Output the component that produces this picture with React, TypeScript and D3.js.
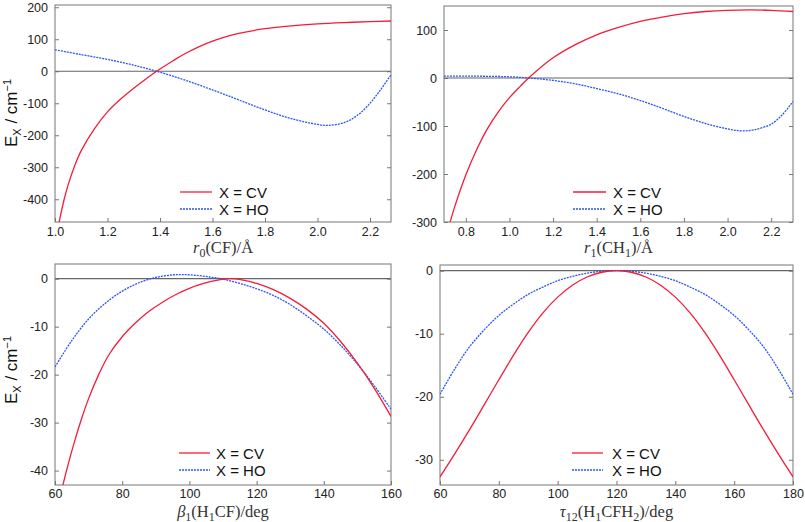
import React, { useRef, useEffect } from 'react';
import * as d3 from 'd3';

type Pt = [number, number];

// r0(CF) scan, cm^-1
const cfCV: Pt[] = [
  [1.01, -495], [1.02, -455], [1.035, -400], [1.05, -355], [1.075, -295], [1.1, -248], [1.15, -180],
  [1.2, -127], [1.25, -87], [1.3, -53], [1.35, -22], [1.387, 0], [1.45, 33], [1.5, 57], [1.6, 94],
  [1.7, 118], [1.8, 133], [1.9, 142], [2.0, 148], [2.1, 152], [2.2, 155], [2.28, 157],
];
const cfHO: Pt[] = [
  [1.0, 67], [1.1, 52], [1.2, 37], [1.3, 19], [1.387, 0], [1.5, -29], [1.648, -73], [1.8, -121],
  [1.9, -148], [2.0, -166], [2.04, -169], [2.1, -161], [2.15, -139], [2.2, -100], [2.24, -58], [2.28, -11],
];

// r1(CH1) scan
const chCV: Pt[] = [
  [0.71, -330], [0.72, -313], [0.75, -267], [0.8, -202], [0.85, -149], [0.9, -105], [0.95, -70],
  [1.0, -41], [1.05, -17], [1.088, 0], [1.2, 42], [1.3, 69], [1.4, 90], [1.5, 105.5], [1.6, 118],
  [1.7, 127], [1.8, 134], [1.9, 138.5], [2.0, 141], [2.1, 142], [2.2, 141], [2.3, 138.5],
];
const chHO: Pt[] = [
  [0.7, 4], [0.8, 4], [0.9, 3.5], [1.0, 2.5], [1.09, 0], [1.2, -5], [1.3, -12], [1.4, -22],
  [1.5, -33], [1.6, -47], [1.7, -63], [1.8, -80], [1.9, -95], [2.0, -106], [2.06, -110],
  [2.12, -108], [2.2, -96], [2.25, -77], [2.3, -49],
];

// beta1(H1CF) scan
const bendCV: Pt[] = [
  [61, -47], [62, -44], [64, -38.5], [66, -33.5], [68, -29], [70, -25], [73, -20], [76, -15.9],
  [80, -12.1], [84, -9.2], [88, -6.8], [92, -4.9], [96, -3.3], [100, -2.0], [104, -1.05],
  [108, -0.35], [112, 0], [116, -0.3], [120, -1.0], [125, -2.3], [130, -4.1], [135, -6.4],
  [140, -9.3], [145, -13.1], [150, -17.6], [155, -22.8], [160, -28.7],
];
const bendHO: Pt[] = [
  [60, -18.4], [65, -12.9], [70, -8.4], [75, -5.1], [80, -2.6], [85, -0.85], [90, 0.25],
  [95, 0.78], [98, 0.85], [102, 0.7], [106, 0.35], [110, -0.1], [115, -1.0], [120, -2.1],
  [125, -3.5], [130, -5.4], [135, -7.8], [140, -10.5], [145, -13.9], [150, -17.8], [155, -22.3], [160, -27.2],
];

// tau12(H1CFH2) scan
const torsCV: Pt[] = [
  [60, -32.7], [65, -29.05], [70, -25.25], [75, -21.3], [80, -17.3], [85, -13.4], [90, -9.8],
  [95, -6.7], [100, -4.2], [105, -2.3], [110, -1.0], [115, -0.25], [120, 0], [125, -0.25],
  [130, -1.0], [135, -2.3], [140, -4.2], [145, -6.7], [150, -9.8], [155, -13.4], [160, -17.3],
  [165, -21.3], [170, -25.25], [175, -29.05], [180, -32.7],
];
const torsHO: Pt[] = [
  [60, -19.6], [65, -15.6], [70, -12.1], [75, -9.4], [80, -7.1], [85, -5.3], [90, -3.75],
  [95, -2.6], [100, -1.6], [105, -0.9], [110, -0.4], [115, -0.1], [120, 0], [125, -0.1],
  [130, -0.4], [135, -0.9], [140, -1.6], [145, -2.6], [150, -3.75], [155, -5.3], [160, -7.1],
  [165, -9.4], [170, -12.1], [175, -15.6], [180, -19.6],
];

const cfXTicks = [1.0, 1.2, 1.4, 1.6, 1.8, 2.0, 2.2];
const cfYTicks = [-400, -300, -200, -100, 0, 100, 200];
const chXTicks = [0.8, 1.0, 1.2, 1.4, 1.6, 1.8, 2.0, 2.2];
const chYTicks = [-300, -200, -100, 0, 100];
const bendXTicks = [60, 80, 100, 120, 140, 160];
const bendYTicks = [-40, -30, -20, -10, 0];
const torsXTicks = [60, 80, 100, 120, 140, 160, 180];
const torsYTicks = [-30, -20, -10, 0];

const seriesNames = ['X = CV', 'X = HO'];

interface Part { t: string; it?: boolean; sub?: boolean }

interface PanelSpec {
  id: string;
  left: number; right: number; top: number; bottom: number;
  xDomain: [number, number]; yDomain: [number, number];
  xTicks: number[]; yTicks: number[]; xFmt: string;
  cv: Pt[]; ho: Pt[];
  xLabel: Part[]; xLabelY: number; tickPad: number;
  legend: { x1: number; x2: number; tx: number; y: number };
  yLabelY?: number;
}

const RED = '#f41c38';
const BLUE = '#2d55f2';
const SANS = '"Liberation Sans", Arial, Helvetica, sans-serif';
const SERIF = '"Liberation Serif", "Times New Roman", serif';

const panels: PanelSpec[] = [
  {
    id: 'cf', left: 55, right: 391, top: 5, bottom: 222,
    xDomain: [1.0, 2.28], yDomain: [-471, 207], xTicks: cfXTicks, yTicks: cfYTicks, xFmt: '.1f',
    cv: cfCV, ho: cfHO,
    xLabel: [{ t: 'r', it: true }, { t: '0', sub: true }, { t: '(CF)/Å' }], xLabelY: 253, tickPad: 5.5,
    legend: { x1: 180, x2: 212, tx: 219, y: 192 }, yLabelY: 113,
  },
  {
    id: 'ch', left: 444, right: 793, top: 6, bottom: 222,
    xDomain: [0.7, 2.3], yDomain: [-300, 150], xTicks: chXTicks, yTicks: chYTicks, xFmt: '.1f',
    cv: chCV, ho: chHO,
    xLabel: [{ t: 'r', it: true }, { t: '1', sub: true }, { t: '(CH' }, { t: '1', sub: true }, { t: ')/Å' }],
    xLabelY: 253, tickPad: 5.5,
    legend: { x1: 573, x2: 606, tx: 613, y: 192 },
  },
  {
    id: 'bend', left: 55, right: 391, top: 264, bottom: 485,
    xDomain: [60, 160], yDomain: [-43, 3.06], xTicks: bendXTicks, yTicks: bendYTicks, xFmt: 'd',
    cv: bendCV, ho: bendHO,
    xLabel: [{ t: 'β', it: true }, { t: '1', sub: true }, { t: '(H' }, { t: '1', sub: true }, { t: 'CF)/deg' }],
    xLabelY: 517, tickPad: 4,
    legend: { x1: 179, x2: 210, tx: 216, y: 453 }, yLabelY: 370,
  },
  {
    id: 'tors', left: 440, right: 793, top: 265, bottom: 485,
    xDomain: [60, 180], yDomain: [-34, 0.9], xTicks: torsXTicks, yTicks: torsYTicks, xFmt: 'd',
    cv: torsCV, ho: torsHO,
    xLabel: [{ t: 'τ', it: true }, { t: '12', sub: true }, { t: '(H' }, { t: '1', sub: true }, { t: 'CFH' }, { t: '2', sub: true }, { t: ')/deg' }],
    xLabelY: 517, tickPad: 4,
    legend: { x1: 572, x2: 603, tx: 612, y: 453 },
  },
];

const App: React.FC = () => {
  const svgRef = useRef<SVGSVGElement>(null);

  useEffect(() => {
    if (!svgRef.current) return;
    const svg = d3.select(svgRef.current);
    svg.selectAll('*').remove();

    panels.forEach((p) => {
      const x = d3.scaleLinear().domain(p.xDomain).range([p.left, p.right]);
      const y = d3.scaleLinear().domain(p.yDomain).range([p.bottom, p.top]);
      const g = svg.append('g');

      g.append('clipPath').attr('id', `clip-${p.id}`)
        .append('rect')
        .attr('x', p.left).attr('y', p.top)
        .attr('width', p.right - p.left).attr('height', p.bottom - p.top);

      // axes (inward ticks, right side mirrored)
      const styleAxis = (a: d3.Selection<SVGGElement, unknown, null, undefined>) => {
        a.select('.domain').remove();
        a.attr('color', '#777');
        a.selectAll('text').attr('fill', '#222').attr('font-family', SANS).attr('font-size', 12.5);
      };
      const bottomAxis = g.append('g').attr('transform', `translate(0,${p.bottom})`)
        .call(d3.axisBottom(x).tickValues(p.xTicks).tickSize(-4).tickPadding(p.tickPad).tickFormat(d3.format(p.xFmt)));
      styleAxis(bottomAxis);
      const leftAxis = g.append('g').attr('transform', `translate(${p.left},0)`)
        .call(d3.axisLeft(y).tickValues(p.yTicks).tickSize(-4).tickPadding(7).tickFormat(d3.format('d')));
      styleAxis(leftAxis);
      leftAxis.selectAll('text').text((d) => String(d));
      const rightAxis = g.append('g').attr('transform', `translate(${p.right},0)`)
        .call(d3.axisRight(y).tickValues(p.yTicks).tickSize(-4).tickFormat(() => ''));
      styleAxis(rightAxis);

      // zero line
      g.append('line')
        .attr('x1', p.left).attr('x2', p.right)
        .attr('y1', y(0)).attr('y2', y(0))
        .attr('stroke', '#666').attr('stroke-width', 1.2);

      // frame
      g.append('rect')
        .attr('x', p.left).attr('y', p.top)
        .attr('width', p.right - p.left).attr('height', p.bottom - p.top)
        .attr('fill', 'none').attr('stroke', '#777').attr('stroke-width', 1);

      const line = d3.line<Pt>()
        .x((d) => x(d[0]))
        .y((d) => y(d[1]))
        .curve(d3.curveCatmullRom.alpha(0.5));

      const curves = g.append('g').attr('clip-path', `url(#clip-${p.id})`);
      curves.append('path').datum(p.ho).attr('d', line)
        .attr('fill', 'none').attr('stroke', BLUE).attr('stroke-width', 1.3).attr('stroke-dasharray', '2,1');
      curves.append('path').datum(p.cv).attr('d', line)
        .attr('fill', 'none').attr('stroke', RED).attr('stroke-width', 1.3);

      // legend
      const lg = g.append('g');
      [RED, BLUE].forEach((c, i) => {
        const ly = p.legend.y + i * 17;
        lg.append('line')
          .attr('x1', p.legend.x1).attr('x2', p.legend.x2)
          .attr('y1', ly).attr('y2', ly)
          .attr('stroke', c).attr('stroke-width', 1.3)
          .attr('stroke-dasharray', i === 1 ? '2,1' : null);
        lg.append('text')
          .attr('x', p.legend.tx).attr('y', ly + 5.5)
          .attr('font-family', SANS).attr('font-size', 15).attr('fill', '#111')
          .text(seriesNames[i]);
      });

      // x label
      const xl = g.append('text')
        .attr('x', (p.left + p.right) / 2).attr('y', p.xLabelY)
        .attr('text-anchor', 'middle')
        .attr('font-family', SERIF).attr('font-size', 16.5).attr('fill', '#333');
      let shifted = false;
      p.xLabel.forEach((part) => {
        const ts = xl.append('tspan').text(part.t);
        if (part.it) ts.attr('font-style', 'italic');
        if (part.sub && !shifted) { ts.attr('dy', 3.5).attr('font-size', 12); shifted = true; }
        else if (part.sub) ts.attr('font-size', 12);
        else if (!part.sub && shifted) { ts.attr('dy', -3.5); shifted = false; }
      });

      // y label
      if (p.yLabelY !== undefined) {
        const yl = g.append('text')
          .attr('transform', `translate(17,${p.yLabelY}) rotate(-90)`)
          .attr('text-anchor', 'middle')
          .attr('font-family', SANS).attr('font-size', 17).attr('fill', '#111');
        yl.append('tspan').text('E');
        yl.append('tspan').text('X').attr('font-size', 11).attr('dy', 3.5);
        yl.append('tspan').text(' / cm').attr('dy', -3.5);
        yl.append('tspan').text('−1').attr('font-size', 11).attr('dy', -6);
      }
    });
  }, []);

  return (
    <svg
      ref={svgRef}
      width={805}
      height={522}
      style={{ position: 'absolute', left: 0, top: 0, background: '#fff' }}
    />
  );
};

export default App;
